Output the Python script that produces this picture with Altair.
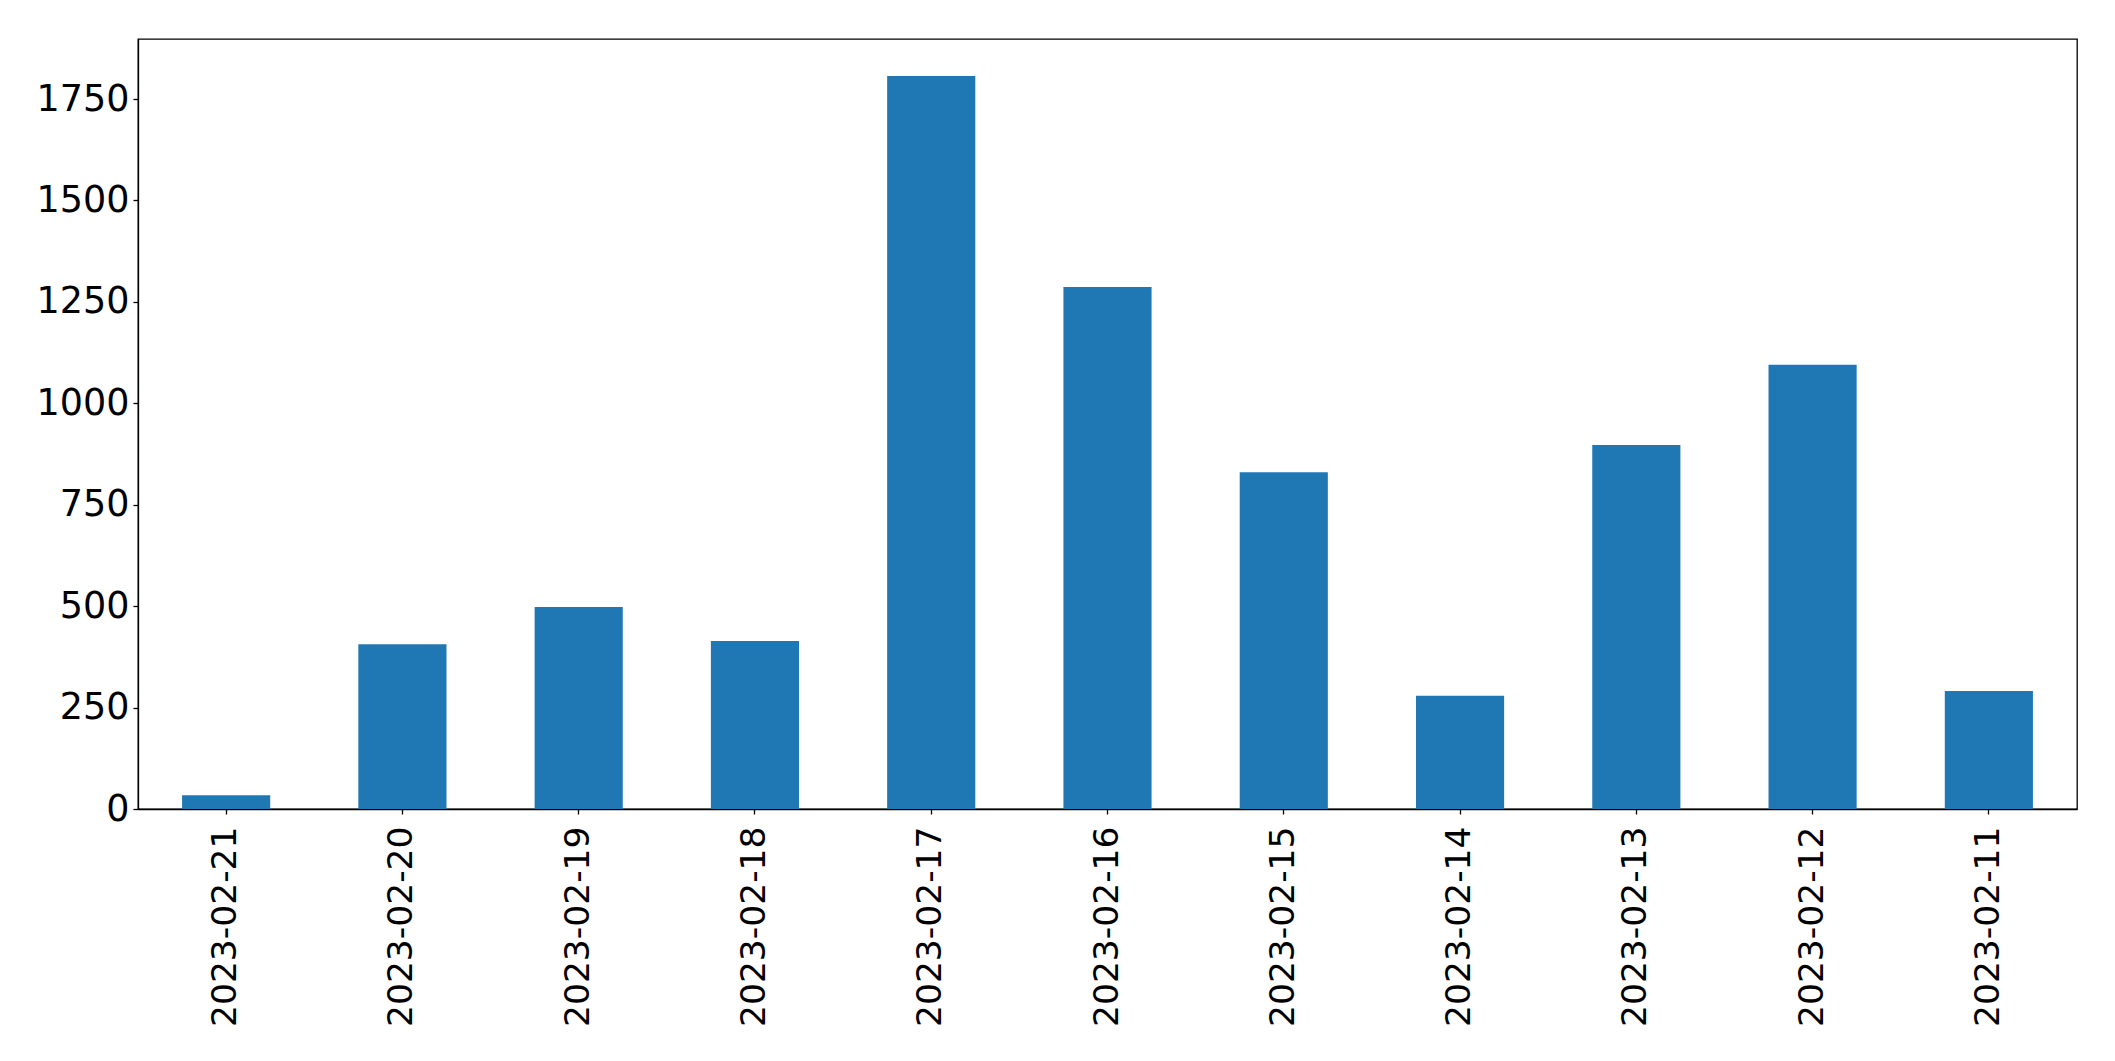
import altair as alt
import pandas as pd

dates = ["2023-02-21", "2023-02-20", "2023-02-19", "2023-02-18", "2023-02-17",
         "2023-02-16", "2023-02-15", "2023-02-14", "2023-02-13", "2023-02-12",
         "2023-02-11"]
counts = [34, 406, 498, 414, 1807, 1287, 830, 279, 897, 1095, 291]
y_ticks = [0, 250, 500, 750, 1000, 1250, 1500, 1750]

df = pd.DataFrame({"date": dates, "count": counts})

FONT = "DejaVu Sans"

chart = alt.Chart(df).mark_bar(color="#1f77b4").encode(
    x=alt.X("date:N", sort=None, title=None,
            scale=alt.Scale(paddingInner=0.5, paddingOuter=0.25),
            axis=alt.Axis(labelAngle=-90, labelFontSize=34.5, labelFont=FONT,
                          labelColor="black", tickColor="black", tickSize=5,
                          labelPadding=12, domainColor="black", tickWidth=1.3,
                          domainWidth=1.3, labelLimit=0)),
    y=alt.Y("count:Q", title=None,
            scale=alt.Scale(domain=[0, 1898], nice=False, zero=True),
            axis=alt.Axis(values=y_ticks, format="d", labelFontSize=36.5,
                          labelFont=FONT, labelColor="black", tickColor="black",
                          tickSize=5, labelPadding=4, grid=False,
                          domainColor="black", tickWidth=1.3, domainWidth=1.3)),
).properties(
    width=1939, height=770,
    background="white",
    autosize=alt.AutoSizeParams(type="none"),
    padding={"left": 130, "top": 31, "right": 30, "bottom": 240},
).configure_view(stroke="black", strokeWidth=1.3)

chart.save("out.html", embed_options={"renderer": "svg", "actions": False})
